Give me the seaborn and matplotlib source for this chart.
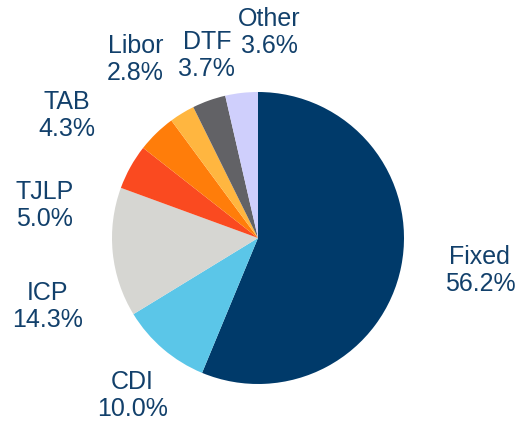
import matplotlib
matplotlib.use("Agg")
import matplotlib.pyplot as plt
import seaborn as sns

# ############### Data ###############
categories = ['Fixed', 'CDI', 'ICP', 'TJLP', 'TAB', 'Libor', 'DTF', 'Other']
shares = [56.2, 10.0, 14.3, 5.0, 4.3, 2.8, 3.7, 3.6]

colors = ['#003A6A', '#5BC6E8', '#D6D6D2', '#FA4A20', '#FF7D0A',
          '#FFB640', '#626266', '#CFCFFC']
text_color = '#12406B'
# label positions, in units of the pie radius
label_pos = [(1.52, -0.22), (-0.86, -1.08), (-1.44, -0.47), (-1.46, 0.22),
             (-1.31, 0.84), (-0.84, 1.22), (-0.35, 1.25), (0.08, 1.41)]

sns.set_theme(style="white")
plt.rcParams['font.family'] = ['Liberation Sans', 'DejaVu Sans']

fig = plt.figure(figsize=(5.22, 4.25), dpi=100)
ax = fig.add_axes([0, 0, 1, 1])
ax.pie(shares, colors=colors, startangle=90, counterclock=False, radius=1,
       wedgeprops=dict(linewidth=0))

for cat, val, (x, y) in zip(categories, shares, label_pos):
    ax.text(x, y, f'{cat}\n{val:.1f}%', ha='center', va='center',
            fontsize=18, color=text_color, linespacing=1.15)

ax.set_xlim(-258 / 146, (522 - 258) / 146)
ax.set_ylim(-(425 - 238) / 146, 238 / 146)
ax.set_aspect('auto')
ax.axis('off')

plt.savefig('out.png', dpi=100)
plt.close('all')
